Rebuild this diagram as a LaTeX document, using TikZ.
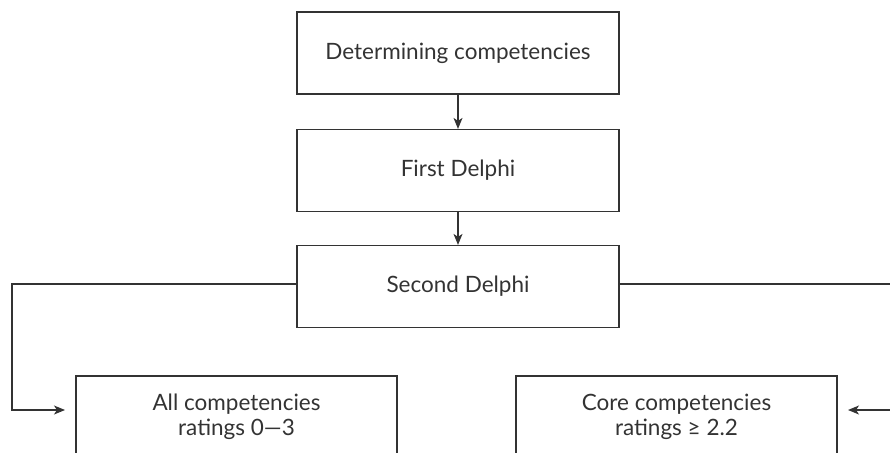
\documentclass[tikz,border=0pt]{standalone}
\usepackage{fontspec}
\setmainfont{Lato}
\usetikzlibrary{arrows.meta}
\definecolor{ink}{HTML}{333333}
\begin{document}
\begin{tikzpicture}[x=1pt,y=-1pt,
  box/.style={draw=ink,line width=1.2pt,minimum width=322pt,minimum height=82pt,
    inner sep=0pt,align=center,text=ink,font=\fontsize{22.5}{25}\selectfont},
  conn/.style={draw=ink,line width=1.2pt},
  arr/.style={conn,-{Stealth[length=11pt,width=9pt,inset=3pt]}}]
\useasboundingbox (0,0) rectangle (890,452);
\clip (0,0) rectangle (890,452);
\node[box] (det) at (458,53) {Determining competencies};
\node[box] (first) at (458,170.5) {First Delphi};
\node[box] (second) at (458,286.5) {Second Delphi};
\node[box,minimum width=321pt] (all) at (236.5,417) {All competencies\\ratings 0---3};
\node[box,minimum width=321pt] (core) at (676.5,417) {Core competencies\\ratings ≥ 2.2};
\draw[arr] (det) -- (first);
\draw[arr] (first) -- (second);
\coordinate (l1) at (12,284);
\coordinate (l2) at (65,410);
\coordinate (r1) at (896,284);
\coordinate (r2) at (848,410);
\draw[arr] (second.west |- l1) -| (l1) |- (l2);
\draw[arr] (second.east |- r1) -| (r1) |- (r2);
\end{tikzpicture}
\end{document}
